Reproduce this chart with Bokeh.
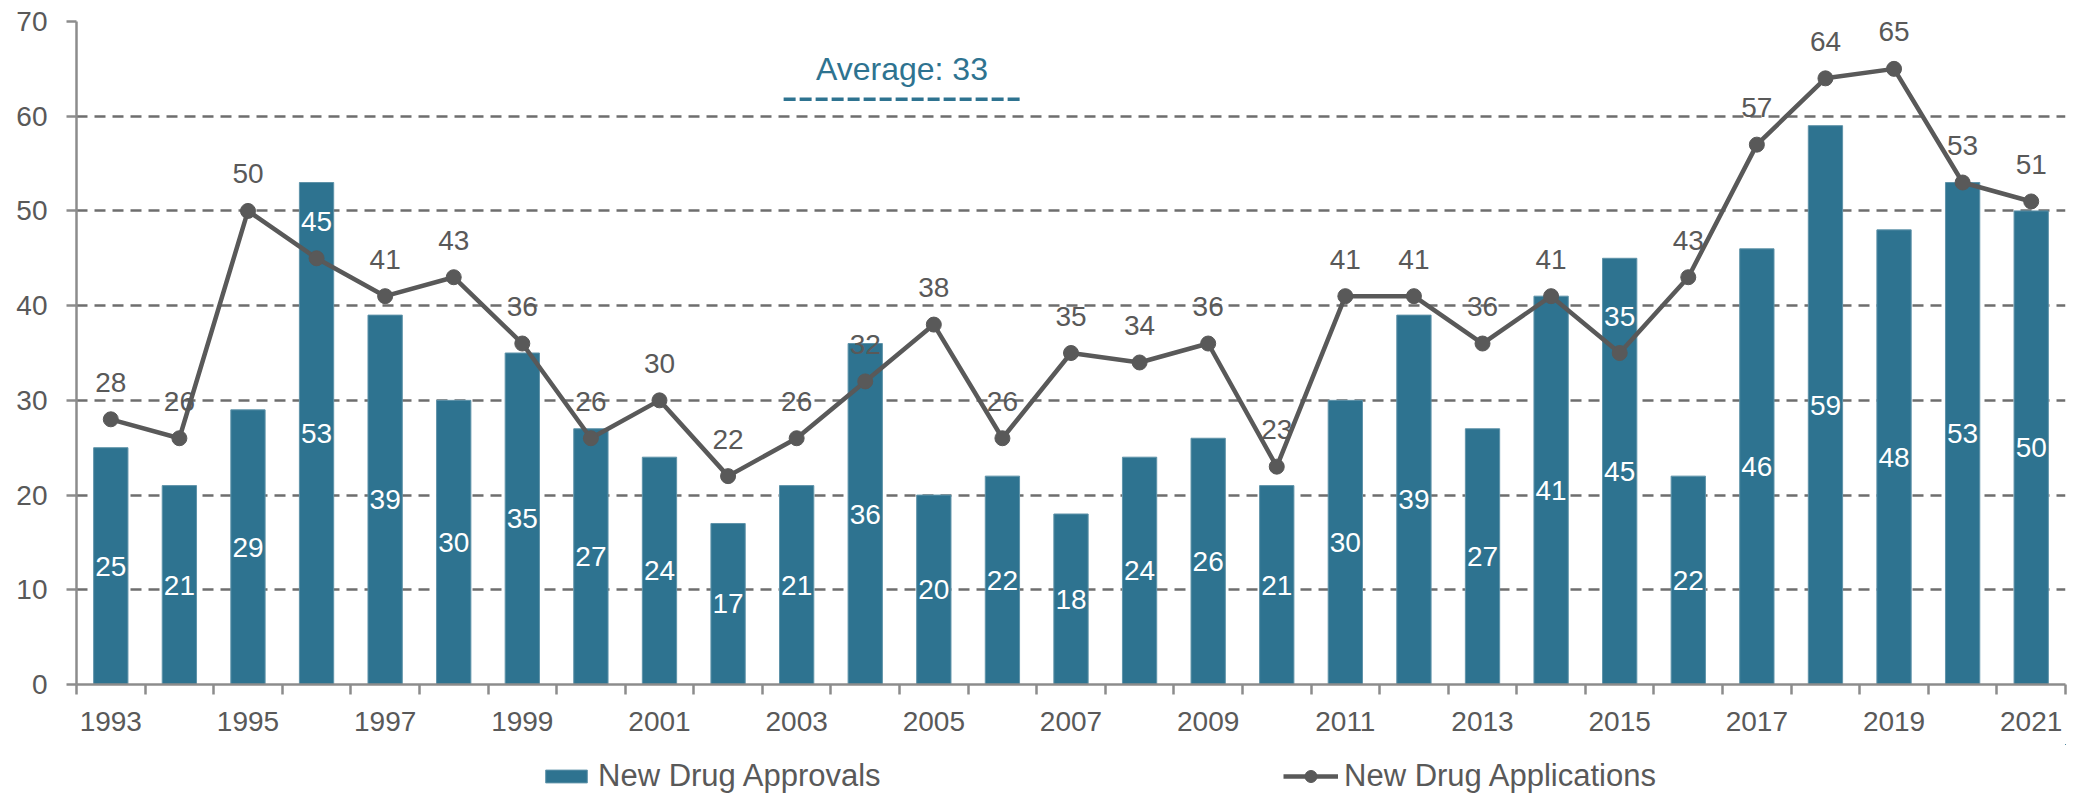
from bokeh.plotting import figure
from bokeh.layouts import column
from bokeh.models import (ColumnDataSource, Range1d, FixedTicker, CustomJSTickFormatter,
                          Legend, LegendItem, Label)
from bokeh.core.properties import value
from bokeh.embed import file_html
from bokeh.resources import INLINE

# ---------------- data ----------------
years = list(range(1993, 2022))
approvals = [25, 21, 29, 53, 39, 30, 35, 27, 24, 17, 21, 36, 20, 22, 18,
             24, 26, 21, 30, 39, 27, 41, 45, 22, 46, 59, 48, 53, 50]
applications = [28, 26, 50, 45, 41, 43, 36, 26, 30, 22, 26, 32, 38, 26, 35,
                34, 36, 23, 41, 41, 36, 41, 35, 43, 57, 64, 65, 53, 51]
series_names = ["New Drug Approvals", "New Drug Applications"]
y_ticks = [0, 10, 20, 30, 40, 50, 60, 70]

# ---------------- styles ----------------
BAR = "#2e7390"
GRAY = "#595959"
AXIS = "#8c8c8c"
GRID = "#6e6e6e"
FONT = "Liberation Sans"

n = len(years)
avg = round(sum(approvals) / n)

x = [i + 0.5 for i in range(n)]
PX_PER_UNIT = 663 / 70.0
LABEL_OFF = 37  # px above point
app_label_col = []
for a, b in zip(applications, approvals):
    top_of_label = a + (LABEL_OFF + 10) / PX_PER_UNIT
    app_label_col.append("white" if top_of_label < b else GRAY)

src = ColumnDataSource(dict(
    x=x,
    year=[str(y) for y in years],
    approvals=approvals,
    appr_mid=[v / 2 for v in approvals],
    appr_label=[str(v) for v in approvals],
    applications=applications,
    app_label=[str(v) for v in applications],
    app_label_color=app_label_col,
))

p = figure(width=2079, height=744, x_range=Range1d(0, n), y_range=Range1d(0, 70),
           output_backend="svg", toolbar_location=None,
           min_border_left=76, min_border_right=14, min_border_top=21, min_border_bottom=60)
p.outline_line_color = None
p.background_fill_color = "white"
p.border_fill_color = "white"

# grid
p.xgrid.visible = False
p.ygrid.grid_line_color = GRID
p.ygrid.grid_line_width = 2.5
p.ygrid.grid_line_dash = "11 7"
p.ygrid.ticker = FixedTicker(ticks=y_ticks[1:])

# y axis
p.yaxis.ticker = FixedTicker(ticks=y_ticks)
p.yaxis.axis_line_color = AXIS
p.yaxis.axis_line_width = 2.5
p.yaxis.major_tick_line_color = AXIS
p.yaxis.major_tick_line_width = 2.5
p.yaxis.major_tick_out = 10
p.yaxis.major_tick_in = 0
p.yaxis.minor_tick_line_color = None
p.yaxis.major_label_standoff = 19
p.yaxis.major_label_text_font = FONT
p.yaxis.major_label_text_font_size = "28px"
p.yaxis.major_label_text_color = GRAY

# x axis
p.xaxis.ticker = FixedTicker(ticks=[i + 0.5 for i in range(0, n, 2)],
                             minor_ticks=list(range(n + 1)))
p.xaxis.formatter = CustomJSTickFormatter(args=dict(years=years),
                                          code="return String(years[Math.floor(tick)]);")
p.xaxis.axis_line_color = AXIS
p.xaxis.axis_line_width = 2.5
p.xaxis.major_tick_out = 0
p.xaxis.major_tick_in = 0
p.xaxis.major_tick_line_color = None
p.xaxis.minor_tick_out = 10
p.xaxis.minor_tick_in = 0
p.xaxis.minor_tick_line_color = AXIS
p.xaxis.minor_tick_line_width = 2.5
p.xaxis.major_label_standoff = 17
p.xaxis.major_label_text_font = FONT
p.xaxis.major_label_text_font_size = "28px"
p.xaxis.major_label_text_color = GRAY

# glyphs
bar_style = dict(fill_color=BAR, line_color="#5f93a9", line_width=1)
line_style = dict(line_color=GRAY, line_width=4.5)
pt_style = dict(marker="circle", fill_color=GRAY, line_color=GRAY)

p.vbar(x="x", top="approvals", width=0.5, source=src, **bar_style)
p.line("x", "applications", source=src, **line_style)
p.scatter("x", "applications", source=src, size=15, **pt_style)

p.text(x="x", y="appr_mid", text="appr_label", source=src, text_color="white",
       text_align="center", text_baseline="middle",
       text_font=value(FONT), text_font_size="28px")
p.text(x="x", y="applications", text="app_label", source=src, text_color="app_label_color",
       y_offset=-LABEL_OFF, text_align="center", text_baseline="middle",
       text_font=value(FONT), text_font_size="28px")

# average annotation
avg_x0, avg_x1, avg_line_y, avg_text_y = 10.31, 13.76, 61.8, 65.0
p.line([avg_x0, avg_x1], [avg_line_y, avg_line_y], line_color=BAR, line_width=3.5,
       line_dash="12 4")
p.add_layout(Label(x=(avg_x0 + avg_x1) / 2, y=avg_text_y, text=f"Average: {avg}",
                   text_align="center", text_baseline="middle",
                   text_color=BAR, text_font=FONT, text_font_size="32px"))

# ---------------- legend strip below the chart ----------------
# The series are drawn again here only so the legend has glyphs to show;
# the ranges keep those copies out of view.
lg = figure(width=2079, height=50, x_range=Range1d(-3, -2), y_range=Range1d(-3, -2),
            output_backend="svg", toolbar_location=None,
            x_axis_type=None, y_axis_type=None, min_border=0)
lg.outline_line_color = None
lg.xgrid.visible = False
lg.ygrid.visible = False
lr_bar = lg.vbar(x="x", top="approvals", width=0.5, source=src, **bar_style)
lr_line = lg.line("x", "applications", source=src, **line_style)
lr_pts = lg.scatter("x", "applications", source=src, size=15, **pt_style)

FRAME_LEFT = 76  # the column aligns this strip's frame with the chart's frame
common = dict(orientation="horizontal", padding=0, margin=0, spacing=0,
              border_line_color=None, background_fill_alpha=0,
              label_text_font=FONT, label_text_font_size="31px",
              label_text_color=GRAY, label_standoff=6)
leg1 = Legend(items=[LegendItem(label=series_names[0], renderers=[lr_bar])],
              location=(540 - FRAME_LEFT, 0), glyph_width=52, glyph_height=16, **common)
leg2 = Legend(items=[LegendItem(label=series_names[1], renderers=[lr_line, lr_pts])],
              location=(1283 - FRAME_LEFT, 0), glyph_width=55, glyph_height=30, **common)
lg.add_layout(leg1)
lg.add_layout(leg2)

layout = column(p, lg, spacing=0)
open("out.html", "w").write(file_html(layout, INLINE))
